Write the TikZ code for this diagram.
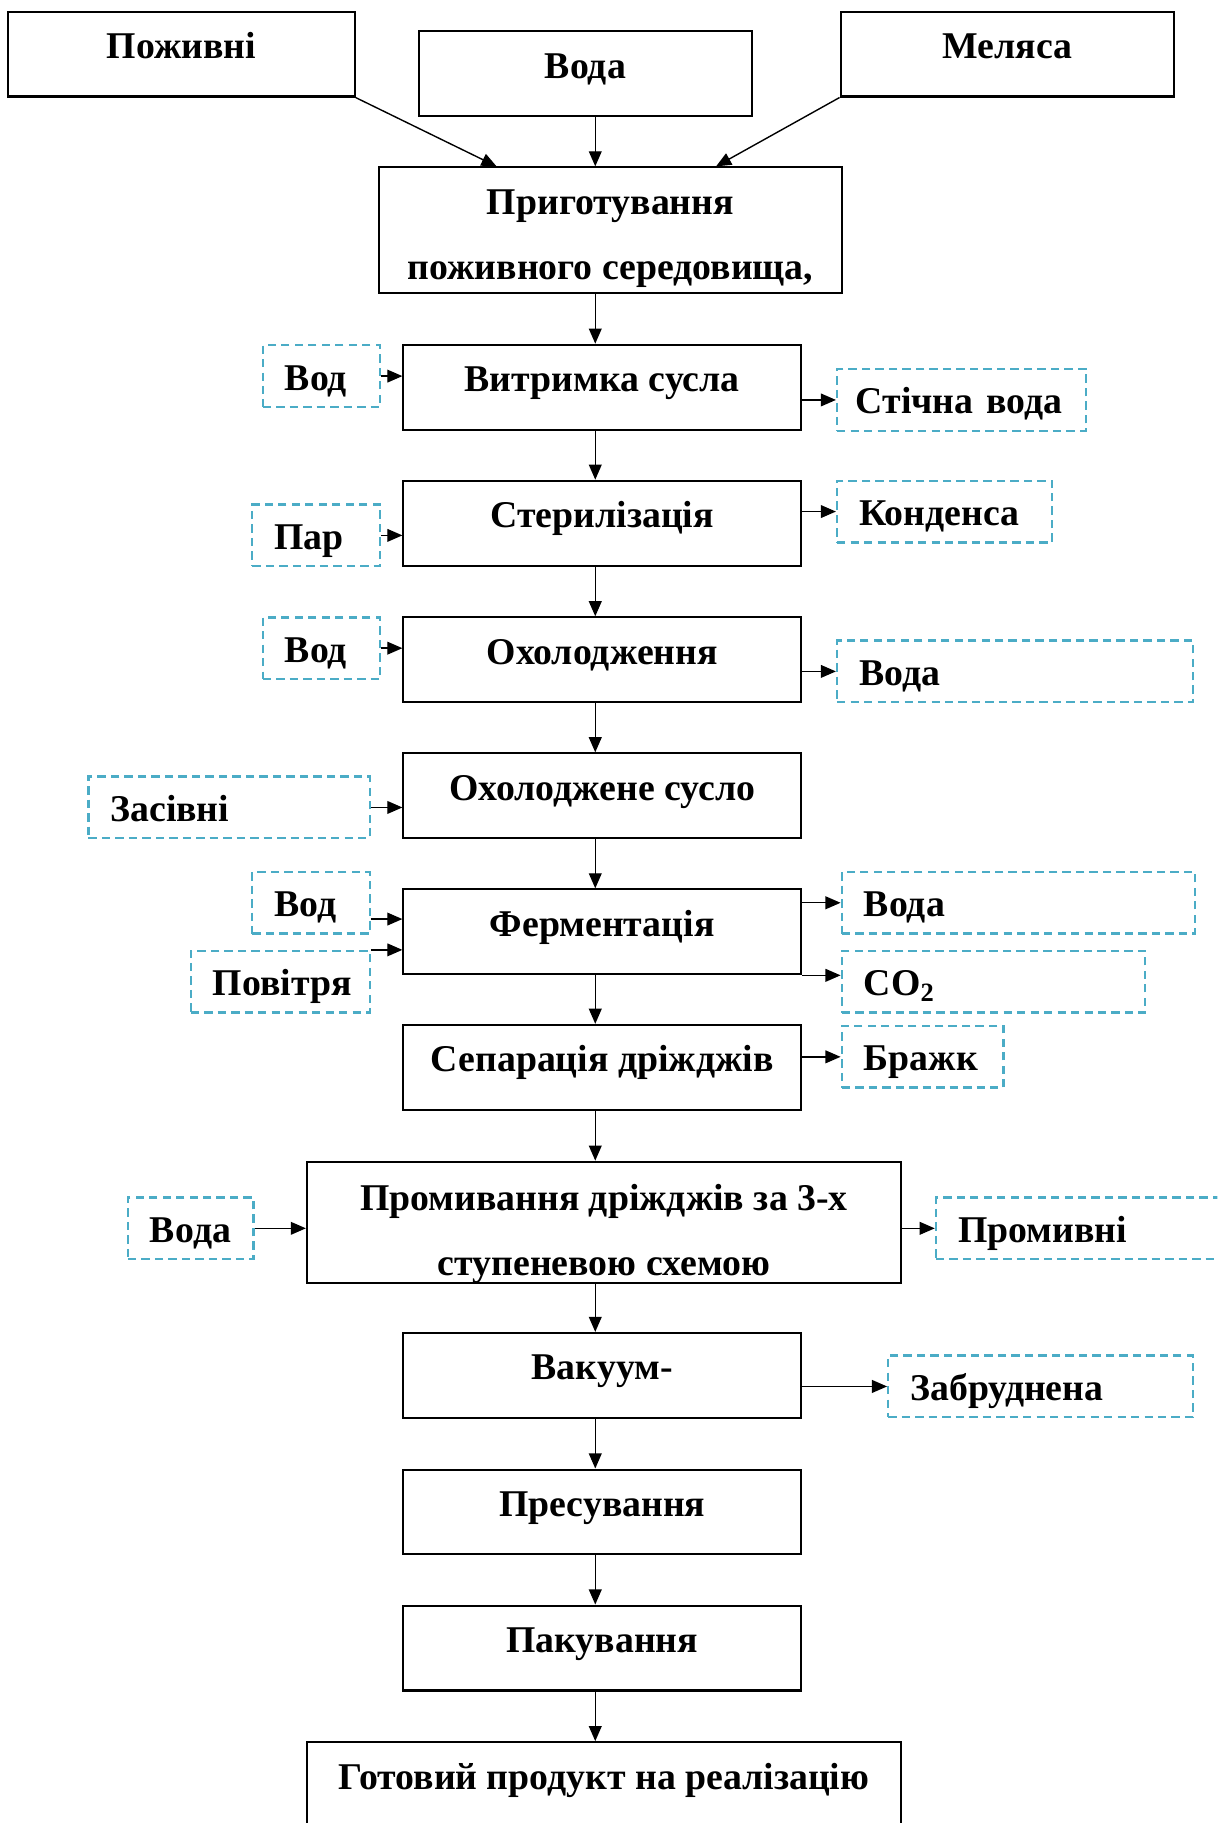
\documentclass[tikz,border=0pt]{standalone}
\usepackage{fontspec}
\setmainfont{Liberation Serif}
\usetikzlibrary{arrows.meta}
\definecolor{aqua}{RGB}{75,172,198}

\begin{document}
\begin{tikzpicture}[x=0.5pt, y=-0.5pt,
    every node/.style={font=\bfseries\fontsize{16.25}{19.5}\selectfont},
    stage/.style={draw, line width=0.9pt, minimum width=171pt, minimum height=36.5pt, inner sep=0pt, text height=12pt, text depth=8.2pt},
    stagetwo/.style={draw, line width=0.9pt, inner sep=0pt, align=center, text depth=3.5pt},
    flowin/.style={draw=aqua, line width=1pt, dash pattern=on 3.6pt off 2.2pt, minimum height=26.5pt, inner xsep=9.5pt, inner ysep=0pt, align=left, text height=12pt, text depth=0pt},
    arr/.style={-{Triangle[length=6.5pt,width=5.5pt]}, line width=0.6pt}]

        % picture frame (the source is cut at right and bottom)
        \path[use as bounding box, clip] (0,0) rectangle (1047,1568);
        \coordinate (axis) at (512,0);

        % Raw materials
        \node[stage, minimum width=149pt] (pozh) at (156,46.5) {Поживні};
        \node[stage, minimum width=143.5pt] (voda) at (503.5,63.5) {Вода};
        \node[stage, minimum width=143.5pt] (mel) at (866.5,46.5) {Меляса};

        % Main process line
        \node[stagetwo, minimum width=199pt, minimum height=54pt, text height=45.8pt] (prig) at (525,198) {Приготування\\[8.5pt]поживного середовища,};
        \node[stage] (vitr) at (518,333) {Витримка сусла};
        \node[stage] (ster) at (518,450) {Стерилізація};
        \node[stage] (okh) at (518,567.5) {Охолодження};
        \node[stage] (okhs) at (518,684.5) {Охолоджене сусло};
        \node[stage] (ferm) at (518,801.5) {Ферментація};
        \node[stage] (sep) at (518,918) {Сепарація дріжджів};
        \node[stagetwo, minimum width=255.5pt, minimum height=51.5pt, text height=48.8pt] (prom) at (519.5,1051.5) {Промивання дріжджів за 3-х\\[8.5pt]ступеневою схемою};
        \node[stage] (vak) at (518,1183) {Вакуум-};
        \node[stage] (pres) at (518,1300.5) {Пресування};
        \node[stage] (pak) at (518,1417.5) {Пакування};
        \node[stage, minimum width=255.5pt] (got) at (519.5,1535) {Готовий продукт на реалізацію};

        % Inputs (left) and outputs (right)
        \node[flowin, text width=31.5pt] (vod1) at (276.5,323.5) {Вод};
        \node[flowin, text width=91pt, inner xsep=8pt] (stich) at (827,344) {Стічна вода};
        \node[flowin, text width=36pt] (par) at (272,460.5) {Пар};
        \node[flowin, text width=73.5pt] (kond) at (812.5,440) {Конденса};
        \node[flowin, text width=31.5pt] (vod2) at (276.5,557.5) {Вод};
        \node[flowin, text width=134pt] (voda2) at (873,577.5) {Вода};
        \node[flowin, text width=102pt] (zas) at (197,694.5) {Засівні};
        \node[flowin, text width=31.5pt] (vod3) at (267.5,776.5) {Вод};
        \node[flowin, text width=58pt] (pov) at (241,844.5) {Повітря};
        \node[flowin, text width=133pt] (voda3) at (876,776.5) {Вода};
        \node[flowin, text width=111.5pt] (co2) at (854.5,844.5) {CO\textsubscript{2}};
        \node[flowin, text width=50.5pt] (brazh) at (793.5,909) {Бражк};
        \node[flowin, text width=35pt] (voda4) at (164,1056.5) {Вода};
        \node[flowin, text width=133.5pt] (promv) at (957.5,1056.5) {Промивні};
        \node[flowin, text width=112pt] (zabr) at (895,1192.5) {Забруднена};

        % Arrows into the preparation
        \draw[arr] (pozh.south east) -- ([xshift=51pt]prig.north west);
        \draw[arr] (voda.south -| axis) -- (prig.north -| axis);
        \draw[arr] (mel.south west) -- ([xshift=-54.5pt]prig.north east);

        % Arrows down the line
        \draw[arr] (prig.south -| axis) -- (vitr.north -| axis);
        \draw[arr] (vitr.south -| axis) -- (ster.north -| axis);
        \draw[arr] (ster.south -| axis) -- (okh.north -| axis);
        \draw[arr] (okh.south -| axis) -- (okhs.north -| axis);
        \draw[arr] (okhs.south -| axis) -- (ferm.north -| axis);
        \draw[arr] (ferm.south -| axis) -- (sep.north -| axis);
        \draw[arr] (sep.south -| axis) -- (prom.north -| axis);
        \draw[arr] (prom.south -| axis) -- (vak.north -| axis);
        \draw[arr] (vak.south -| axis) -- (pres.north -| axis);
        \draw[arr] (pres.south -| axis) -- (pak.north -| axis);
        \draw[arr] (pak.south -| axis) -- (got.north -| axis);

        % Side arrows
        \draw[arr] (vod1.east) -- (vod1.east -| vitr.west);
        \draw[arr] (stich.west -| vitr.east) -- (stich.west);
        \draw[arr] (par.east) -- (par.east -| ster.west);
        \draw[arr] (kond.west -| ster.east) -- (kond.west);
        \draw[arr] (vod2.east) -- (vod2.east -| okh.west);
        \draw[arr] (voda2.west -| okh.east) -- (voda2.west);
        \draw[arr] (zas.east) -- (zas.east -| okhs.west);
        \draw[arr] ([yshift=-7pt]vod3.east) -- ([yshift=-7pt]vod3.east -| ferm.west);
        \draw[arr] (pov.north east) -- (pov.north east -| ferm.west);
        \draw[arr] (voda3.west -| ferm.east) -- (voda3.west);
        \draw[arr] (ferm.south east) -- (ferm.south east -| co2.west);
        \draw[arr] (brazh.west -| sep.east) -- (brazh.west);
        \draw[arr] (voda4.east) -- (voda4.east -| prom.west);
        \draw[arr] (promv.west -| prom.east) -- (promv.west);
        \draw[arr] (zabr.west -| vak.east) -- (zabr.west);

\end{tikzpicture}
\end{document}
